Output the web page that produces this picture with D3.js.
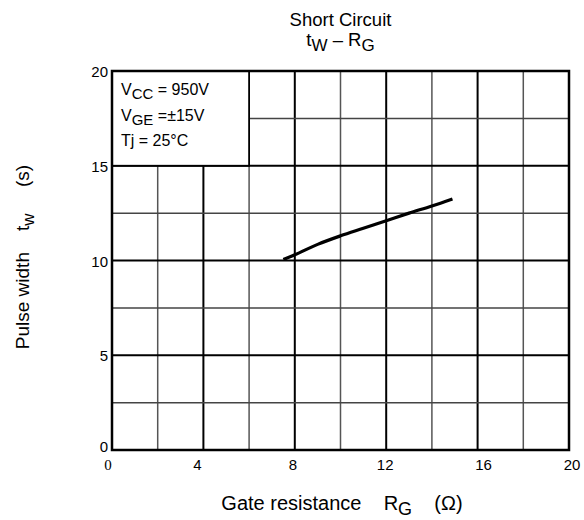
<!DOCTYPE html>
<html>
<head>
<meta charset="utf-8">
<script src="https://cdn.jsdelivr.net/npm/d3@7"></script>
<style>
  body { margin: 0; background: #fff; }
  text { font-family: "Liberation Sans", Arial, sans-serif; fill: #000; }
</style>
</head>
<body>
<div id="chart"></div>
<script>
// Data
var rgValues = [7.5, 8, 9, 10, 11, 12, 13, 14, 14.9];
var twValues = [10.05, 10.3, 10.85, 11.3, 11.7, 12.1, 12.5, 12.88, 13.25];
var xTicks = [0, 4, 8, 12, 16, 20];
var yTicks = [0, 5, 10, 15, 20];
var xGrid = [2, 4, 6, 8, 10, 12, 14, 16, 18];
var yGrid = [2.5, 5, 7.5, 10, 12.5, 15, 17.5];
var legendLines = [
  { main: 'V', sub: 'CC', rest: ' = 950V' },
  { main: 'V', sub: 'GE', rest: ' =\u00b115V' },
  { main: 'Tj = 25\u00b0C', sub: '', rest: '' }
];

var W = 584, H = 520;
var margin = { top: 71, right: 15, bottom: 70, left: 112 },
  width = W - margin.left - margin.right,
  height = H - margin.top - margin.bottom;

var svg = d3.select('#chart').append('svg')
  .attr('width', W).attr('height', H);

var g = svg.append('g')
  .attr('transform', 'translate(' + margin.left + ',' + margin.top + ')');

var x = d3.scaleLinear().domain([0, 20]).range([0, width]);
var y = d3.scaleLinear().domain([0, 20]).range([height, 0]);

// Grid lines: major ones darker
g.selectAll('.vgrid').data(xGrid).enter().append('line')
  .attr('x1', function (d) { return x(d); })
  .attr('x2', function (d) { return x(d); })
  .attr('y1', y(0)).attr('y2', y(20))
  .attr('stroke', function (d) { return d % 4 === 0 ? '#000' : '#555'; })
  .attr('stroke-width', function (d) { return d % 4 === 0 ? 2 : 1.5; });

g.selectAll('.hgrid').data(yGrid).enter().append('line')
  .attr('x1', x(0)).attr('x2', x(20))
  .attr('y1', function (d) { return y(d); })
  .attr('y2', function (d) { return y(d); })
  .attr('stroke', function (d) { return d % 5 === 0 ? '#000' : '#444'; })
  .attr('stroke-width', function (d) { return d % 5 === 0 ? 1.8 : 1.5; });

// Legend box covering grid
g.append('rect')
  .attr('x', x(0)).attr('y', y(20))
  .attr('width', x(6) - x(0)).attr('height', y(15) - y(20))
  .attr('fill', '#fff').attr('stroke', '#000').attr('stroke-width', 1.8);

// Frame
g.append('rect')
  .attr('x', 0).attr('y', 0).attr('width', width).attr('height', height)
  .attr('fill', 'none').attr('stroke', '#000').attr('stroke-width', 2.5);

// Curve
var pts = rgValues.map(function (d, i) { return [d, twValues[i]]; });
g.append('path')
  .datum(pts)
  .attr('fill', 'none')
  .attr('stroke', '#000')
  .attr('stroke-width', 3.2)
  .attr('d', d3.line()
    .x(function (d) { return x(d[0]); })
    .y(function (d) { return y(d[1]); })
    .curve(d3.curveMonotoneX));

// Tick labels (the original labels sit slightly off their grid lines)
var xNudge = { 0: -4, 4: -6, 8: -2, 12: -1, 16: 6, 20: 3 };
g.selectAll('.xt').data(xTicks).enter().append('text')
  .attr('x', function (d) { return x(d) + xNudge[d]; })
  .attr('y', height + 20)
  .attr('text-anchor', 'middle')
  .style('font-size', '15px')
  .style('font-family', function (d) { return d === 0 ? '"Liberation Serif", serif' : null; })
  .text(function (d) { return d; });

g.selectAll('.yt').data(yTicks).enter().append('text')
  .attr('x', -4)
  .attr('y', function (d) { return y(d) + (d === 0 ? 2 : 6); })
  .attr('text-anchor', 'end')
  .style('font-size', '15px')
  .text(function (d) { return d; });

// Legend text
var lt = g.selectAll('.lg').data(legendLines).enter().append('text')
  .attr('x', 9)
  .attr('y', function (d, i) { return 24 + i * 25.5; })
  .style('font-size', '16px');
lt.append('tspan').text(function (d) { return d.main; });
lt.append('tspan').attr('dy', 4).style('font-size', '15px').text(function (d) { return d.sub; });
lt.append('tspan').attr('dy', -4).text(function (d) { return d.rest; });

// Title
var cx = margin.left + width / 2;
svg.append('text').attr('x', cx).attr('y', 26)
  .attr('text-anchor', 'middle').style('font-size', '18.5px').text('Short Circuit');
var t2 = svg.append('text').attr('x', cx).attr('y', 46)
  .attr('text-anchor', 'middle').style('font-size', '18.5px');
t2.append('tspan').text('t');
t2.append('tspan').attr('dy', 5).style('font-size', '17px').text('W');
t2.append('tspan').attr('dy', -5).text(' \u2013 R');
t2.append('tspan').attr('dy', 5).style('font-size', '17px').text('G');

// X axis label
var xl = svg.append('text').attr('x', 342).attr('y', 510)
  .attr('text-anchor', 'middle').style('font-size', '20px').attr('xml:space', 'preserve');
xl.append('tspan').text('Gate resistance    R');
xl.append('tspan').attr('dy', 5).style('font-size', '18px').text('G');
xl.append('tspan').attr('dy', -5).text('    (\u03a9)');

// Y axis label
var yl = svg.append('text')
  .attr('transform', 'translate(29,' + 257 + ') rotate(-90)')
  .attr('text-anchor', 'middle').style('font-size', '19px').attr('xml:space', 'preserve');
yl.append('tspan').text('Pulse width    t');
yl.append('tspan').attr('dy', 5).style('font-size', '17px').text('w');
yl.append('tspan').attr('dy', -5).text('     (s)');
</script>
</body>
</html>
